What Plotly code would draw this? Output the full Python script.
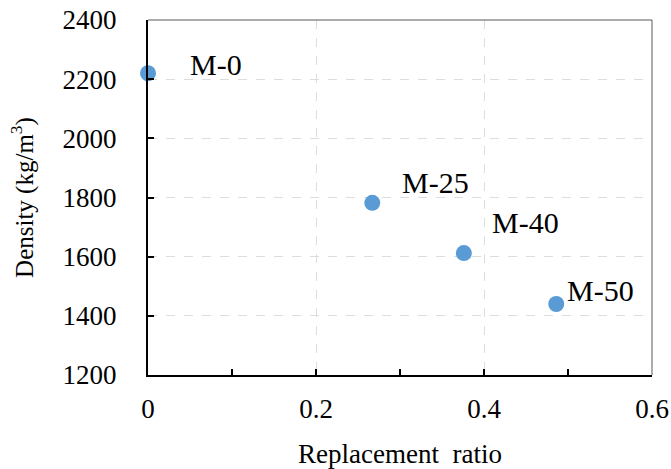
import plotly.graph_objects as go

labels = ["M-0", "M-25", "M-40", "M-50"]
ratio = [0.0, 0.267, 0.376, 0.486]
density = [2220, 1782, 1612, 1440]
label_dx = [40, 28, 26, 9]
label_dy = [9, 20, 31, 14]
x_tickvals = [0, 0.2, 0.4, 0.6]
x_ticktext = ["0", "0.2", "0.4", "0.6"]
y_tickvals = [1200, 1400, 1600, 1800, 2000, 2200, 2400]

FONT = "Liberation Serif, Times New Roman, serif"

fig = go.Figure()
fig.add_trace(go.Scatter(
    x=ratio, y=density, mode="markers",
    marker=dict(size=16, color="#5B9BD5"),
    cliponaxis=False, showlegend=False,
))
for lab, x, y, dx, dy in zip(labels, ratio, density, label_dx, label_dy):
    fig.add_annotation(x=x, y=y, text=lab, showarrow=False, xanchor="left",
                       yanchor="middle", xshift=dx, yshift=dy,
                       font=dict(family=FONT, size=30, color="black"))

fig.update_layout(
    width=671, height=469,
    margin=dict(l=148, r=19, t=20, b=94),
    plot_bgcolor="white", paper_bgcolor="white",
    font=dict(family=FONT, size=26, color="black"),
    shapes=[
        dict(type="line", xref="paper", yref="paper", x0=0, x1=1, y0=1, y1=1,
             line=dict(color="#595959", width=1)),
        dict(type="line", xref="paper", yref="paper", x0=1, x1=1, y0=0, y1=1,
             line=dict(color="#595959", width=1)),
    ],
)
fig.update_xaxes(
    range=[0, 0.6], tickmode="array", tickvals=x_tickvals, ticktext=x_ticktext,
    showline=True, linecolor="black", linewidth=2,
    ticks="inside", ticklen=6, tickwidth=2, tickcolor="black",
    showgrid=True, gridcolor="#dddddd", griddash="dash", gridwidth=1,
    minor=dict(dtick=0.1, tick0=0, ticks="inside", ticklen=6, tickwidth=2,
               tickcolor="black", showgrid=False),
    zeroline=False, ticklabelstandoff=9, automargin=False,
    tickfont=dict(size=27),
    title=dict(text="Replacement  ratio", font=dict(size=27), standoff=25),
)
fig.update_yaxes(
    range=[1200, 2400], tickmode="array", tickvals=y_tickvals,
    showline=True, linecolor="black", linewidth=2,
    ticks="inside", ticklen=6, tickwidth=2, tickcolor="black",
    showgrid=True, gridcolor="#dddddd", griddash="dash", gridwidth=1,
    zeroline=False, ticklabelstandoff=24, automargin=False,
    tickfont=dict(size=27),
    title=dict(text="Density (kg/m<sup>3</sup>)", font=dict(size=25), standoff=22),
)

fig.write_html("out.html", config={"displayModeBar": False},
               post_script="document.body.style.margin='0';")
